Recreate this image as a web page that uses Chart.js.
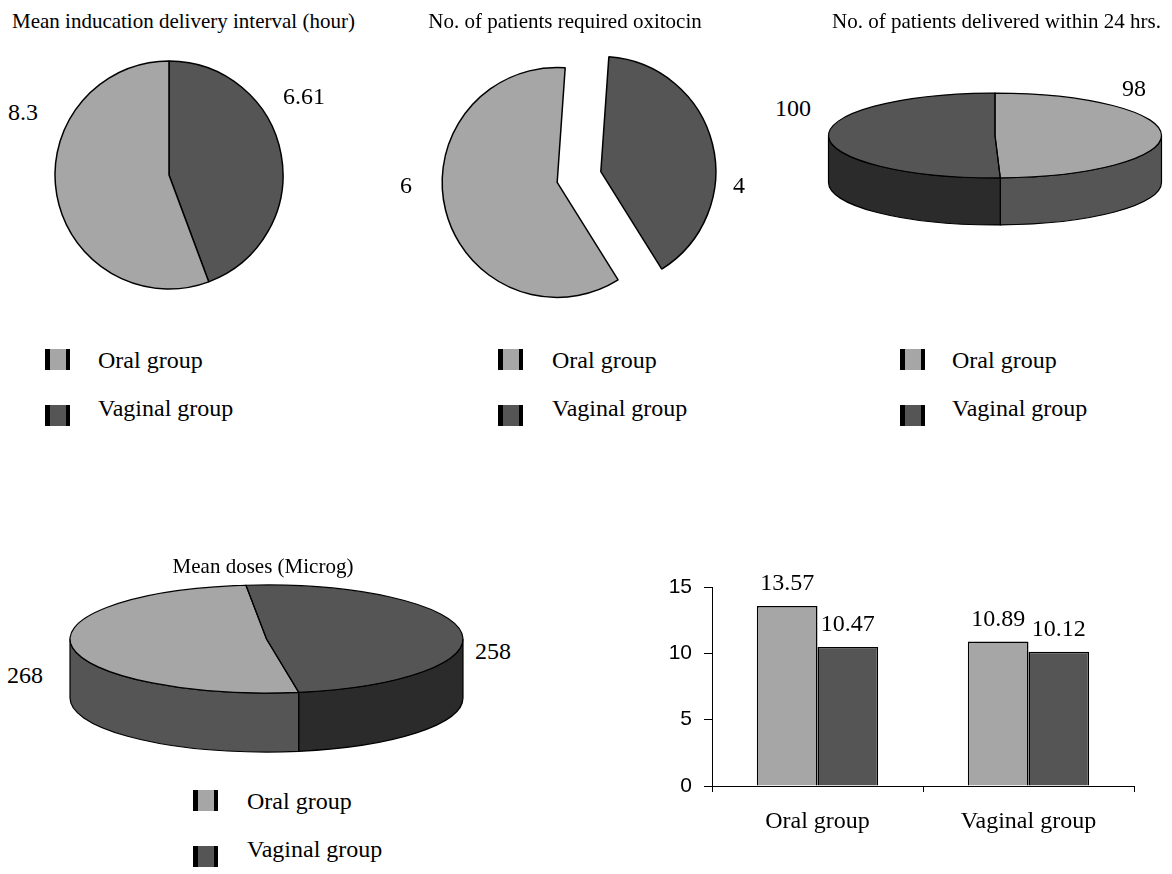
<!DOCTYPE html>
<html lang="en">
<head>
  <meta charset="UTF-8">
  <title>Oral vs vaginal group</title>
  <script src="https://cdn.jsdelivr.net/npm/chart.js"></script>
  <style>
    body {
      margin: 0;
      background: #fff;
      font-family: "Liberation Serif", "Times New Roman", serif;
      color: #000;
    }
    #page {
      position: relative;
      width: 1172px;
      height: 874px;
      overflow: hidden;
    }
    #page canvas, .txt, .mark {
      position: absolute;
    }
    .txt {
      white-space: nowrap;
      line-height: 1;
      transform: translateY(-50%);
    }
    .txt.mid {
      transform: translate(-50%, -50%);
    }
    .mark {
      width: 16px;
      height: 21px;
      border-left: 5px solid #000;
      border-right: 4px solid #000;
    }
  </style>
</head>
<body>
<div id="page">
  <canvas id="pie1" style="left:49px;top:55px" width="240" height="240"></canvas>
  <canvas id="pie2" style="left:409px;top:7px" width="340" height="340"></canvas>
  <canvas id="pie3" style="left:820px;top:85px" width="350" height="150"></canvas>
  <canvas id="pie4" style="left:60px;top:575px" width="413" height="190"></canvas>
  <canvas id="bars" style="left:640px;top:570px" width="510" height="280"></canvas>
</div>

<script>
  // ---- data ----
  const groups = ['Oral group', 'Vaginal group'];

  // pies are listed in drawing order (clockwise from the start angle)
  const intervalLabels = ['Vaginal group', 'Oral group'];
  const intervalValues = [6.61, 8.3];

  const oxitocinLabels = ['Vaginal group', 'Oral group'];
  const oxitocinValues = [4, 6];

  const within24Labels = ['Oral group', 'Vaginal group'];
  const within24Values = [98, 100];

  const dosesLabels = ['Vaginal group', 'Oral group'];
  const dosesValues = [258, 268];

  const barCategories = ['Oral group', 'Vaginal group'];
  const barSeries1 = [13.57, 10.89];
  const barSeries2 = [10.47, 10.12];
  const barTicks = [0, 5, 10, 15];

  // ---- styling ----
  const LIGHT = '#a6a6a6';
  const DARK = '#555555';
  const DARKER = '#2b2b2b';
  const colorOf = { 'Oral group': LIGHT, 'Vaginal group': DARK };
  const sideOf = { 'Oral group': DARK, 'Vaginal group': DARKER };
  const SERIF = '"Liberation Serif", "Times New Roman", serif';
  const SANS = '"Liberation Sans", Arial, sans-serif';

  const page = document.getElementById('page');

  function text(str, left, cy, size, centered) {
    const el = document.createElement('div');
    el.className = centered ? 'txt mid' : 'txt';
    el.textContent = str;
    el.style.left = left + 'px';
    el.style.top = cy + 'px';
    el.style.fontSize = size + 'px';
    page.appendChild(el);
  }

  function legend(markLeft, textLeft, top, gap) {
    groups.forEach((g, i) => {
      const m = document.createElement('div');
      m.className = 'mark';
      m.style.left = markLeft + 'px';
      m.style.top = (top + i * gap - 11 + i * 8) + 'px';
      m.style.background = colorOf[g];
      page.appendChild(m);
      text(g, textLeft, top + i * gap, 24);
    });
  }

  // titles
  text('Mean inducation delivery interval (hour)', 12, 21, 21);
  text('No. of patients required oxitocin', 565, 21, 21, true);
  text('No. of patients delivered within 24 hrs.', 832, 21, 21);
  text('Mean doses (Microg)', 263, 566, 21, true);

  // value labels next to pies
  text(String(intervalValues[1]), 8, 112, 24);
  text(String(intervalValues[0]), 283, 96, 24);
  text(String(oxitocinValues[1]), 400, 185, 24);
  text(String(oxitocinValues[0]), 733, 185, 24);
  text(String(within24Values[1]), 775, 108, 24);
  text(String(within24Values[0]), 1122, 88, 24);
  text(String(dosesValues[1]), 7, 675, 24);
  text(String(dosesValues[0]), 475, 651, 24);

  legend(45, 98, 360, 48);
  legend(498, 552, 360, 48);
  legend(900, 952, 360, 48);
  legend(193, 247, 801, 48);

  Chart.defaults.animation = false;
  Chart.defaults.events = [];
  Chart.defaults.plugins.legend.display = false;
  Chart.defaults.plugins.tooltip.enabled = false;
  Chart.defaults.maintainAspectRatio = false;
  Chart.defaults.responsive = false;

  // pulls every slice out along its bisector by a fixed distance
  const explodePlugin = {
    id: 'explode',
    beforeDatasetsDraw(chart, args, opts) {
      if (!opts.distance) return;
      const ctx = chart.ctx;
      chart.getDatasetMeta(0).data.forEach(arc => {
        const mid = (arc.startAngle + arc.endAngle) / 2;
        ctx.save();
        ctx.translate(Math.cos(mid) * opts.distance, Math.sin(mid) * opts.distance);
        arc.draw(ctx);
        ctx.restore();
      });
      return false;
    }
  };

  function flatPie(id, labels, values, radius, rotation, explode) {
    return new Chart(document.getElementById(id), {
      type: 'pie',
      data: {
        labels: labels,
        datasets: [{
          data: values,
          backgroundColor: labels.map(l => colorOf[l]),
          borderColor: '#000',
          borderWidth: 1.5,
          clip: false
        }]
      },
      options: {
        radius: radius,
        rotation: rotation,
        layout: { padding: 0 },
        plugins: { explode: { distance: explode } }
      },
      plugins: [explodePlugin]
    });
  }

  flatPie('pie1', intervalLabels, intervalValues, 114, 0, 0);
  flatPie('pie2', oxitocinLabels, oxitocinValues, 115, 4, 22.5);

  // parts of an arc that face the viewer (lower half of the tilted disc)
  function frontParts(a0, a1) {
    const parts = [];
    for (let k = -2; k <= 2; k++) {
      const lo = Math.max(a0, 2 * Math.PI * k);
      const hi = Math.min(a1, 2 * Math.PI * k + Math.PI);
      if (hi > lo) parts.push([lo, hi]);
    }
    return parts;
  }

  // draws the pie squashed into an ellipse with a side wall
  const tiltPlugin = {
    id: 'tilt',
    beforeDatasetsDraw(chart, args, opts) {
      const ctx = chart.ctx;
      const arcs = chart.getDatasetMeta(0).data;
      const { x, y, outerRadius: r } = arcs[0];
      const s = opts.squash, d = opts.depth;
      ctx.save();
      ctx.lineWidth = 1.2;
      ctx.strokeStyle = '#000';
      arcs.forEach((arc, i) => {
        frontParts(arc.startAngle, arc.endAngle).forEach(([b0, b1]) => {
          ctx.beginPath();
          ctx.ellipse(x, y, r, r * s, 0, b0, b1);
          ctx.lineTo(x + r * Math.cos(b1), y + d + r * s * Math.sin(b1));
          ctx.ellipse(x, y + d, r, r * s, 0, b1, b0, true);
          ctx.closePath();
          ctx.fillStyle = opts.sideColors[i];
          ctx.fill();
          ctx.stroke();
        });
      });
      ctx.restore();
      ctx.save();
      ctx.translate(0, y);
      ctx.scale(1, s);
      ctx.translate(0, -y);
    },
    afterDatasetsDraw(chart, args, opts) {
      const ctx = chart.ctx;
      ctx.restore();
      const arcs = chart.getDatasetMeta(0).data;
      const s = opts.squash;
      ctx.save();
      ctx.lineWidth = 1.2;
      ctx.strokeStyle = '#000';
      arcs.forEach(arc => {
        const { x, y, outerRadius: r, startAngle: a0, endAngle: a1 } = arc;
        ctx.beginPath();
        ctx.moveTo(x, y);
        ctx.lineTo(x + r * Math.cos(a0), y + r * s * Math.sin(a0));
        ctx.ellipse(x, y, r, r * s, 0, a0, a1);
        ctx.closePath();
        ctx.stroke();
      });
      ctx.restore();
    }
  };

  function tiltedPie(id, labels, values, radius, squash, depth, rotation, padBottom) {
    return new Chart(document.getElementById(id), {
      type: 'pie',
      data: {
        labels: labels,
        datasets: [{
          data: values,
          backgroundColor: labels.map(l => colorOf[l]),
          borderWidth: 0,
          clip: false
        }]
      },
      options: {
        radius: radius,
        rotation: rotation,
        layout: { padding: { bottom: padBottom } },
        plugins: {
          tilt: { squash: squash, depth: depth, sideColors: labels.map(l => sideOf[l]) }
        }
      },
      plugins: [tiltPlugin]
    });
  }

  tiltedPie('pie3', within24Labels, within24Values, 166.5, 0.255, 47, 0, 49);
  tiltedPie('pie4', dosesLabels, dosesValues, 196.5, 0.275, 59, -6, 62);

  // value labels above the bars
  const barLabels = {
    id: 'barLabels',
    afterDatasetsDraw(chart) {
      const ctx = chart.ctx;
      ctx.save();
      ctx.font = '24px ' + SERIF;
      ctx.fillStyle = '#000';
      ctx.textAlign = 'center';
      ctx.textBaseline = 'alphabetic';
      chart.data.datasets.forEach((ds, di) => {
        chart.getDatasetMeta(di).data.forEach((bar, i) => {
          ctx.fillText(ds.data[i].toFixed(2), bar.x, bar.y - 16);
        });
      });
      ctx.restore();
    }
  };

  new Chart(document.getElementById('bars'), {
    type: 'bar',
    data: {
      labels: barCategories,
      datasets: [
        { data: barSeries1, backgroundColor: LIGHT, borderColor: '#000', borderWidth: 1.5 },
        { data: barSeries2, backgroundColor: DARK, borderColor: '#000', borderWidth: 1.5 }
      ]
    },
    options: {
      layout: { padding: { top: 17, right: 16, left: 0, bottom: 0 } },
      datasets: { bar: { categoryPercentage: 0.575, barPercentage: 1 } },
      scales: {
        x: {
          grid: { drawOnChartArea: false, color: '#000', tickLength: 6, offset: true },
          border: { color: '#000', width: 1 },
          ticks: { font: { family: SERIF, size: 24 }, color: '#000', padding: 15 },
          afterFit(scale) { scale.height = 64; scale.paddingLeft = 0; scale.paddingRight = 0; }
        },
        y: {
          min: 0,
          max: 15,
          afterBuildTicks(scale) { scale.ticks = barTicks.map(v => ({ value: v })); },
          grid: { drawOnChartArea: false, color: '#000', tickLength: 8 },
          border: { color: '#000', width: 1 },
          ticks: { font: { family: SANS, size: 21 }, color: '#000', padding: 12 },
          afterFit(scale) { scale.width = 72; scale.paddingTop = 0; scale.paddingBottom = 0; }
        }
      }
    },
    plugins: [barLabels]
  });
</script>
</body>
</html>
